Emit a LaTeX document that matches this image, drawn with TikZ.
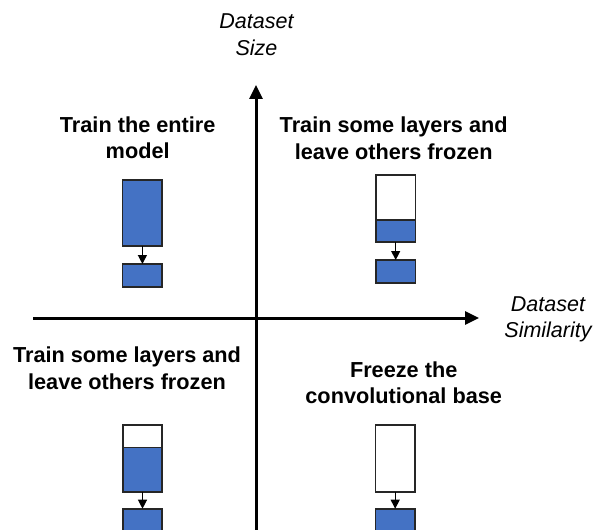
\documentclass[tikz,border=0pt]{standalone}
\usepackage{fontspec}
\setmainfont{Liberation Sans}
\usetikzlibrary{arrows.meta}
\definecolor{boxblue}{HTML}{4472C4}
\definecolor{boxline}{HTML}{262626}
\tikzset{
  blk/.style={draw=boxline, line width=1.6bp, fill=boxblue, inner sep=0pt, outer sep=0pt, minimum width=39.5bp},
  wht/.style={blk, fill=white},
  title/.style={font=\fontsize{21.7bp}{26.5bp}\selectfont\bfseries, align=center, inner sep=0pt},
  axlabel/.style={font=\fontsize{21.5bp}{26.5bp}\selectfont\itshape, align=center, inner sep=0pt},
  axis/.style={line width=3bp, -{Triangle[length=14bp, width=13bp]}},
  flow/.style={line width=1.2bp, -{Triangle[length=9bp, width=9bp]}}
}
\begin{document}
\begin{tikzpicture}[x=1bp, y=-1bp]
\useasboundingbox (0,0) rectangle (597,530);
% axes
\coordinate (xl) at (33,318);
\coordinate (xr) at (479,318);
\coordinate (yb) at (256,535);
\coordinate (yt) at (256,85);
\draw[axis] (xl) -- (xr);
\draw[axis] (yb) -- (yt);
\node[axlabel] (ylab) at (256.5,34.5) {Dataset\\Size};
\node[axlabel] (xlab) at (548,319.5) {Dataset\\Similarity};
% titles
\node[title] (t1) at (137.7,137.5) {Train the entire\\model};
\node[title] (t2) at (393.7,138) {Train some layers and\\leave others frozen};
\node[title] (t3) at (127,368) {Train some layers and\\leave others frozen};
\node[title] (t4) at (403.7,382.5) {Freeze the\\convolutional base};
% top-left
\node[blk, minimum height=66bp, anchor=north] (a1) at (142.4,180) {};
\node[blk, minimum height=22.7bp, anchor=north] (a2) at (142.4,264) {};
\draw[flow] (a1.south) -- (a2.north);
% top-right
\node[wht, minimum height=45bp, anchor=north] (b1) at (395.7,175) {};
\node[blk, minimum height=21.7bp, anchor=north] (b2) at (395.7,220) {};
\node[blk, minimum height=23bp, anchor=north] (b3) at (395.7,260) {};
\draw[flow] (b2.south) -- (b3.north);
% bottom-left
\node[wht, minimum height=22.3bp, anchor=north] (c1) at (142.5,425) {};
\node[blk, minimum height=44.4bp, anchor=north] (c2) at (142.5,447.3) {};
\node[blk, minimum height=30bp, anchor=north] (c3) at (142.5,508.7) {};
\draw[flow] (c2.south) -- (c3.north);
% bottom-right
\node[wht, minimum height=66.7bp, anchor=north] (d1) at (395.2,425) {};
\node[blk, minimum height=30bp, anchor=north] (d2) at (395.2,508.7) {};
\draw[flow] (d1.south) -- (d2.north);
\end{tikzpicture}
\end{document}
